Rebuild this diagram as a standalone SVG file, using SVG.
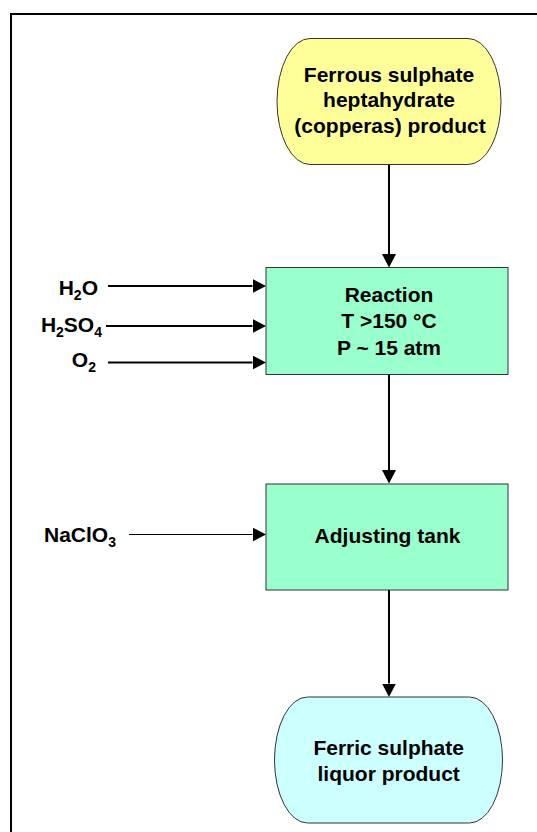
<svg xmlns="http://www.w3.org/2000/svg" width="537" height="832" viewBox="0 0 537 832">
  <defs>
    <style>
      text { font-family: "Liberation Sans", Arial, sans-serif; font-weight: bold; font-size: 21px; fill: #000; }
      .c { text-anchor: middle; }
      .e { text-anchor: end; }
      .node { stroke: #333; stroke-width: 1; }
      .flow { stroke: #000; stroke-width: 2; fill: none; }
      .thin { stroke: #000; stroke-width: 1; fill: none; }
    </style>
    <marker id="ah" markerUnits="userSpaceOnUse" markerWidth="14" markerHeight="14" refX="0" refY="7" orient="auto" viewBox="0 0 14 14">
      <path d="M0,0 L13.5,7 L0,14 z" fill="#000"/>
    </marker>
  </defs>
  <rect width="537" height="832" fill="#fff"/>
  <rect x="11" y="14" width="700" height="900" fill="none" stroke="#000" stroke-width="2"/>

  <g id="connectors">
    <line class="flow" x1="389" y1="164.5" x2="389" y2="254" marker-end="url(#ah)"/>
    <line class="flow" x1="389" y1="374.5" x2="389" y2="470" marker-end="url(#ah)"/>
    <line class="flow" x1="389" y1="590" x2="389" y2="683.5" marker-end="url(#ah)"/>
    <line class="flow" x1="108" y1="286" x2="252.5" y2="286" marker-end="url(#ah)"/>
    <line class="flow" x1="106" y1="326" x2="252.5" y2="326" marker-end="url(#ah)"/>
    <line class="flow" x1="108" y1="362.5" x2="252.5" y2="362.5" marker-end="url(#ah)"/>
    <line class="thin" x1="129" y1="534.5" x2="252.5" y2="534.5" marker-end="url(#ah)"/>
  </g>

  <g id="copperas">
    <rect class="node" x="277" y="38.5" width="224" height="126" rx="33" ry="63" fill="#FFFF99"/>
    <text class="c" x="389" y="81.5">Ferrous sulphate</text>
    <text class="c" x="389" y="107">heptahydrate</text>
    <text class="c" x="390" y="133">(copperas) product</text>
  </g>

  <g id="reaction">
    <rect class="node" x="266" y="267.5" width="242" height="107" fill="#99FFCC"/>
    <text class="c" x="389" y="301.5">Reaction</text>
    <text class="c" x="389" y="328.3">T &gt;150 °C</text>
    <text class="c" x="389" y="355">P ~ 15 atm</text>
  </g>

  <g id="adjusting">
    <rect class="node" x="266" y="484" width="242" height="106" fill="#99FFCC"/>
    <text class="c" x="387.5" y="543">Adjusting tank</text>
  </g>

  <g id="ferric">
    <rect class="node" x="274.5" y="697" width="228" height="126" rx="33" ry="63" fill="#CCFFFF"/>
    <text class="c" x="388.7" y="755">Ferric sulphate</text>
    <text class="c" x="388.7" y="780.7">liquor product</text>
  </g>

  <g id="inputs">
    <text class="e" x="98" y="295">H<tspan font-size="14" dy="5">2</tspan><tspan dy="-5">O</tspan></text>
    <text class="e" x="102" y="331.5">H<tspan font-size="14" dy="5">2</tspan><tspan dy="-5">SO</tspan><tspan font-size="14" dy="5">4</tspan></text>
    <text class="e" x="96" y="366.5">O<tspan font-size="14" dy="5">2</tspan></text>
    <text class="e" x="116" y="541.7">NaClO<tspan font-size="14" dy="5">3</tspan></text>
  </g>
</svg>
